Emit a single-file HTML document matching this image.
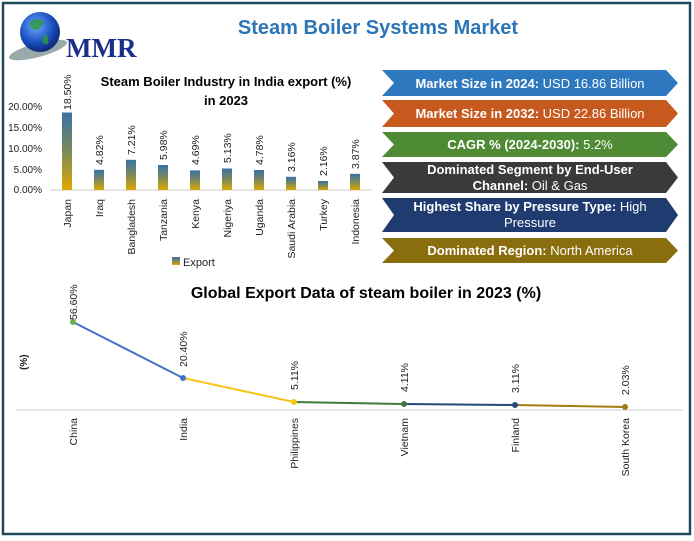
<!DOCTYPE html>
<html><head><meta charset="utf-8"><style>
body{margin:0;background:#fff;}
svg{display:block;font-family:"Liberation Sans",sans-serif;}
</style></head><body>
<svg width="694" height="541" viewBox="0 0 694 541">
<defs>
<linearGradient id="bg" x1="0" y1="0" x2="0" y2="1"><stop offset="0" stop-color="#3a72a6"/><stop offset="0.5" stop-color="#7a8a5a"/><stop offset="1" stop-color="#e0a800"/></linearGradient>
<radialGradient id="gl" cx="0.4" cy="0.35" r="0.7"><stop offset="0" stop-color="#6fa8ff"/><stop offset="0.6" stop-color="#1a4fc0"/><stop offset="1" stop-color="#0a1f6a"/></radialGradient>
</defs>
<rect x="3" y="3" width="687" height="531" fill="#fff" stroke="#1e4a5a" stroke-width="2.5"/>
<ellipse cx="38" cy="50" rx="30" ry="7" fill="#9aa" transform="rotate(-15 38 50)"/>
<circle cx="40" cy="32" r="20" fill="url(#gl)"/>
<path d="M30 22 q8-6 14 0 q-2 6 -8 8 q-6 0 -6-8z M44 34 q6 2 4 10 q-4 2 -6-4z" fill="#2d9a3a" opacity="0.8"/>
<text x="66" y="57" font-family="Liberation Serif,serif" font-weight="bold" font-size="27" fill="#1a2e8a">MMR</text>
<text x="378" y="34" text-anchor="middle" font-size="20" font-weight="bold" fill="#2e75b6">Steam Boiler Systems Market</text>
<text x="226" y="86" text-anchor="middle" font-size="13" font-weight="bold" fill="#000">Steam Boiler Industry in India export (%)</text>
<text x="226" y="105" text-anchor="middle" font-size="13" font-weight="bold" fill="#000">in 2023</text>
<g font-size="10" fill="#222" text-anchor="end">
<text x="42" y="110">20.00%</text><text x="42" y="131">15.00%</text><text x="42" y="152">10.00%</text><text x="42" y="173">5.00%</text><text x="42" y="193">0.00%</text>
</g>
<line x1="50" y1="190" x2="372" y2="190" stroke="#ccc"/>
<g font-size="10.5" fill="#222">
<rect x="62" y="112.5" width="10" height="77.5" fill="url(#bg)"/>
<rect x="94" y="169.8" width="10" height="20.2" fill="url(#bg)"/>
<rect x="126" y="159.8" width="10" height="30.2" fill="url(#bg)"/>
<rect x="158" y="165" width="10" height="25" fill="url(#bg)"/>
<rect x="190" y="170.4" width="10" height="19.6" fill="url(#bg)"/>
<rect x="222" y="168.5" width="10" height="21.5" fill="url(#bg)"/>
<rect x="254" y="170" width="10" height="20" fill="url(#bg)"/>
<rect x="286" y="176.8" width="10" height="13.2" fill="url(#bg)"/>
<rect x="318" y="181" width="10" height="9" fill="url(#bg)"/>
<rect x="350" y="173.8" width="10" height="16.2" fill="url(#bg)"/>
<text transform="translate(71,110) rotate(-90)">18.50%</text>
<text transform="translate(103,165) rotate(-90)">4.82%</text>
<text transform="translate(135,155) rotate(-90)">7.21%</text>
<text transform="translate(167,160) rotate(-90)">5.98%</text>
<text transform="translate(199,165) rotate(-90)">4.69%</text>
<text transform="translate(231,163) rotate(-90)">5.13%</text>
<text transform="translate(263,165) rotate(-90)">4.78%</text>
<text transform="translate(295,172) rotate(-90)">3.16%</text>
<text transform="translate(327,176) rotate(-90)">2.16%</text>
<text transform="translate(359,169) rotate(-90)">3.87%</text>
<g text-anchor="end">
<text transform="translate(71,199) rotate(-90)">Japan</text>
<text transform="translate(103,199) rotate(-90)">Iraq</text>
<text transform="translate(135,199) rotate(-90)">Bangladesh</text>
<text transform="translate(167,199) rotate(-90)">Tanzania</text>
<text transform="translate(199,199) rotate(-90)">Kenya</text>
<text transform="translate(231,199) rotate(-90)">Nigeriya</text>
<text transform="translate(263,199) rotate(-90)">Uganda</text>
<text transform="translate(295,199) rotate(-90)">Saudi Arabia</text>
<text transform="translate(327,199) rotate(-90)">Turkey</text>
<text transform="translate(359,199) rotate(-90)">Indonesia</text>
</g>
</g>
<rect x="172" y="257" width="8" height="8" fill="url(#bg)"/>
<text x="183" y="266" font-size="11" fill="#222">Export</text>
<g font-size="13" fill="#fff" text-anchor="middle">
<path d="M382 70 H666 L678 83 L666 96 H382 L394 83Z" fill="#2e78c0"/>
<text x="530" y="88"><tspan font-weight="bold">Market Size in 2024:</tspan> USD 16.86 Billion</text>
<path d="M382 100 H666 L678 113.5 L666 127 H382 L394 113.5Z" fill="#c8591e"/>
<text x="530" y="118"><tspan font-weight="bold">Market Size in 2032:</tspan> USD 22.86 Billion</text>
<path d="M382 132 H666 L678 144.5 L666 157 H382 L394 144.5Z" fill="#4f8a34"/>
<text x="530" y="149"><tspan font-weight="bold">CAGR % (2024-2030):</tspan> 5.2%</text>
<path d="M382 162 H666 L678 177.5 L666 193 H382 L394 177.5Z" fill="#3a3a3a"/>
<text x="530" y="174" font-weight="bold">Dominated Segment by End-User</text>
<text x="530" y="190"><tspan font-weight="bold">Channel:</tspan> Oil &amp; Gas</text>
<path d="M382 198 H666 L678 215 L666 232 H382 L394 215Z" fill="#1f3b70"/>
<text x="530" y="211"><tspan font-weight="bold">Highest Share by Pressure Type:</tspan> High</text>
<text x="530" y="227">Pressure</text>
<path d="M382 238 H666 L678 250.5 L666 263 H382 L394 250.5Z" fill="#8a6d0c"/>
<text x="530" y="255"><tspan font-weight="bold">Dominated Region:</tspan> North America</text>
</g>
<text x="366" y="298" text-anchor="middle" font-size="16" font-weight="bold" fill="#000">Global Export Data of steam boiler in 2023 (%)</text>
<text transform="translate(27,370) rotate(-90)" font-size="10" font-weight="bold" fill="#222">(%)</text>
<line x1="16" y1="410" x2="683" y2="410" stroke="#ccc"/>
<polyline points="73,322 183,378" fill="none" stroke="#4472c4" stroke-width="2"/>
<polyline points="183,378 294,402" fill="none" stroke="#f5c518" stroke-width="2"/>
<polyline points="294,402 404,404" fill="none" stroke="#3e7a3a" stroke-width="2"/>
<polyline points="404,404 515,405" fill="none" stroke="#254a7a" stroke-width="2"/>
<polyline points="515,405 625,407" fill="none" stroke="#a07c10" stroke-width="2"/>
<circle cx="73" cy="322" r="3" fill="#70ad47"/>
<circle cx="183" cy="378" r="3" fill="#4472c4"/>
<circle cx="294" cy="402" r="3" fill="#f5c518"/>
<circle cx="404" cy="404" r="3" fill="#3e7a3a"/>
<circle cx="515" cy="405" r="3" fill="#254a7a"/>
<circle cx="625" cy="407" r="3" fill="#a07c10"/>
<g font-size="10.5" fill="#222">
<text transform="translate(77,320) rotate(-90)">56.60%</text>
<text transform="translate(187,367) rotate(-90)">20.40%</text>
<text transform="translate(298,390) rotate(-90)">5.11%</text>
<text transform="translate(408,392) rotate(-90)">4.11%</text>
<text transform="translate(519,393) rotate(-90)">3.11%</text>
<text transform="translate(629,395) rotate(-90)">2.03%</text>
<g text-anchor="end">
<text transform="translate(77,418) rotate(-90)">China</text>
<text transform="translate(187,418) rotate(-90)">India</text>
<text transform="translate(298,418) rotate(-90)">Philippines</text>
<text transform="translate(408,418) rotate(-90)">Vietnam</text>
<text transform="translate(519,418) rotate(-90)">Finland</text>
<text transform="translate(629,418) rotate(-90)">South Korea</text>
</g>
</g>
</svg>
</body></html>
